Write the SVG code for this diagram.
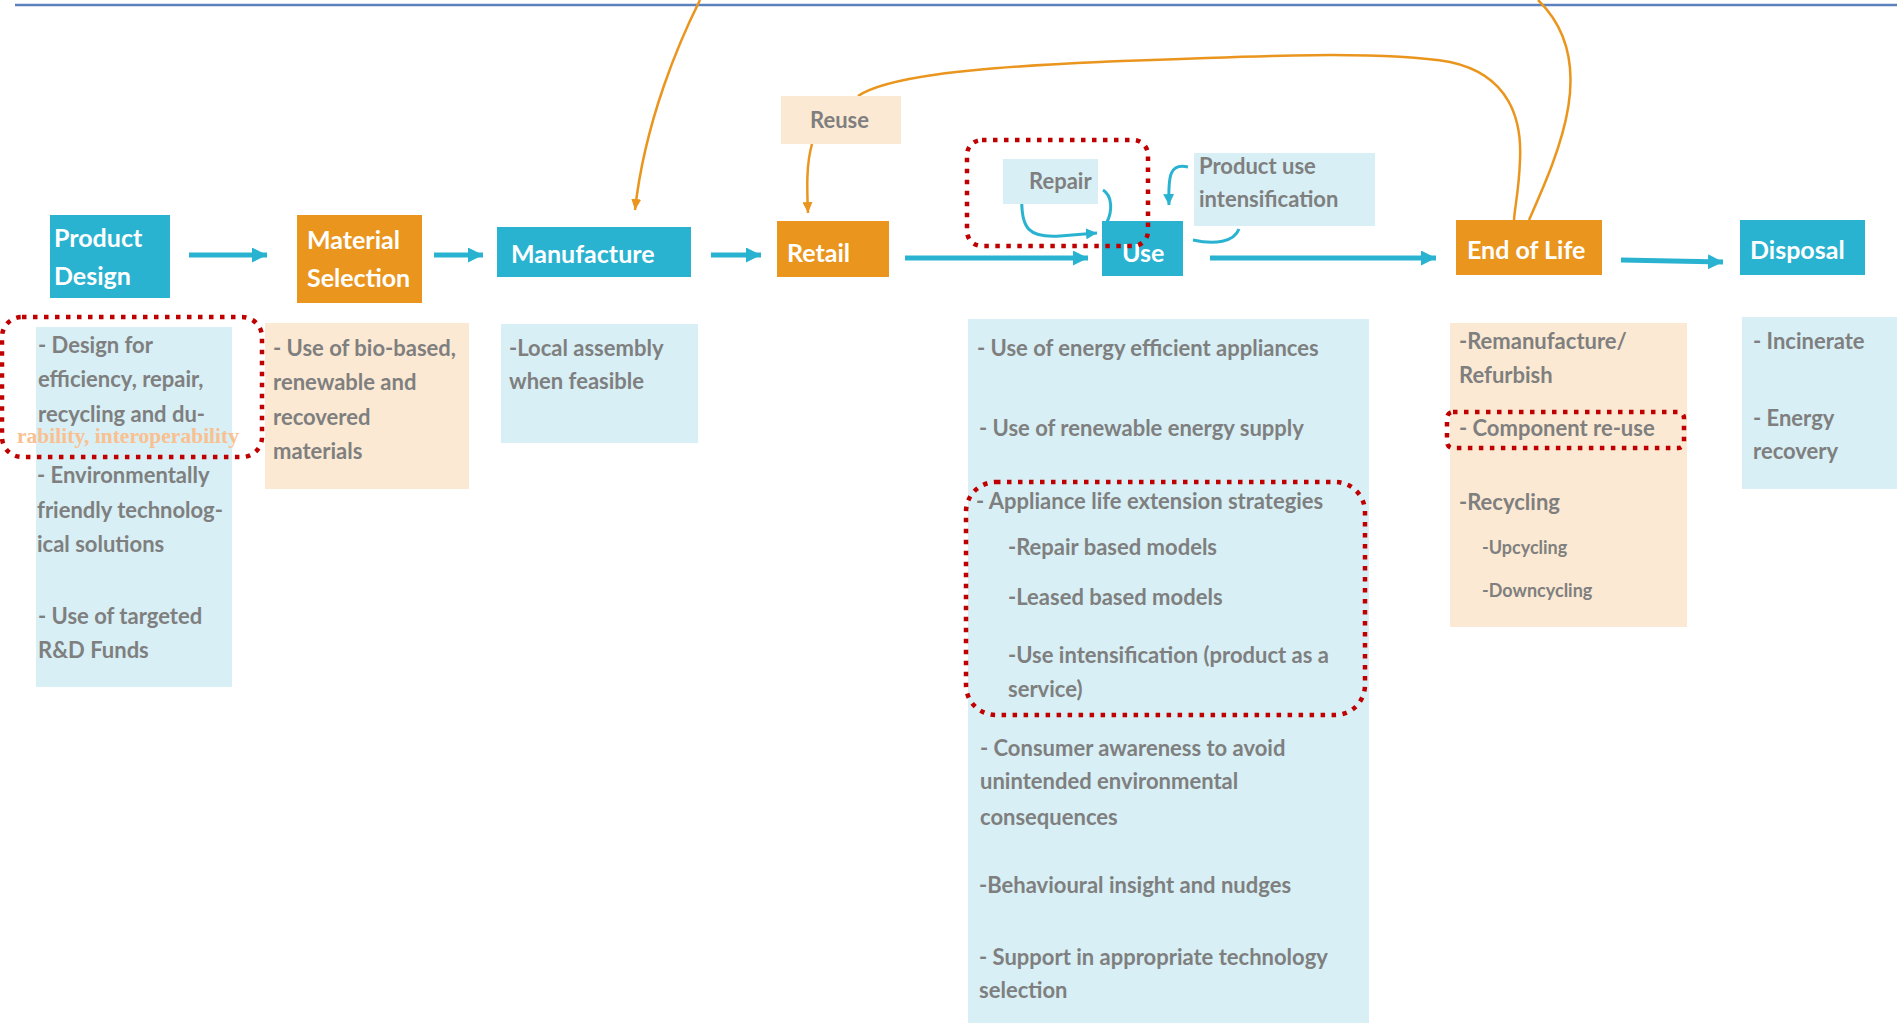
<svg xmlns="http://www.w3.org/2000/svg" width="1897" height="1023" viewBox="0 0 1897 1023">
<defs>
<style>
.blue{fill:#29b3d1}
.orange{fill:#ea961e}
.lblue{fill:#d7eff5}
.beige{fill:#fbe9d3}
.lbl{font-family:Lato,"Open Sans",sans-serif;font-weight:bold;font-size:25px;fill:#fff}
.txt{font-family:Lato,"Open Sans",sans-serif;font-weight:bold;font-size:22px;fill:#7f7f7f}
.sm{font-size:18px}
.ser{font-family:"Liberation Serif",serif;font-weight:bold;font-size:21px;fill:#fac090}
.conn{fill:none;stroke:#29b3d1;stroke-width:5}
.thin{fill:none;stroke:#29b3d1;stroke-width:3}
.oc{fill:none;stroke:#ea961e;stroke-width:2.5}
.red{fill:none;stroke:#c00000;stroke-width:4.5;stroke-dasharray:4.5 6.5}
</style>
<marker id="ab" markerUnits="userSpaceOnUse" markerWidth="16" markerHeight="15" refX="15" refY="7.5" orient="auto"><path d="M0,0 L15,7.5 L0,15 z" fill="#29b3d1"/></marker>
<marker id="as" markerUnits="userSpaceOnUse" markerWidth="12" markerHeight="11" refX="11" refY="5.5" orient="auto"><path d="M0,0 L11,5.5 L0,11 z" fill="#29b3d1"/></marker>
<marker id="ao" markerUnits="userSpaceOnUse" markerWidth="12" markerHeight="10" refX="11" refY="5" orient="auto"><path d="M0,0 L11,5 L0,10 z" fill="#ea961e"/></marker>
</defs>
<rect width="1897" height="1023" fill="#fff"/>
<path d="M15,5 L1897,5" stroke="#5b82be" stroke-width="2.5"/>

<g id="connectors">
<path class="conn" d="M189,255 L267,255" marker-end="url(#ab)"/>
<path class="conn" d="M434,255 L483,255" marker-end="url(#ab)"/>
<path class="conn" d="M711,255 L761,255" marker-end="url(#ab)"/>
<path class="conn" d="M905,258 L1088,258" marker-end="url(#ab)"/>
<path class="conn" d="M1210,258 L1436,258" marker-end="url(#ab)"/>
<path class="conn" d="M1621,260 L1723,262" marker-end="url(#ab)"/>
<path class="oc" d="M700,0 C680,40 645,120 635,210" marker-end="url(#ao)"/>
<path class="oc" d="M812,144 C806,165 807,190 808,213" marker-end="url(#ao)"/>
<path class="oc" d="M858,96 C885,78 960,68 1100,62 C1250,56 1380,50 1450,62 C1510,75 1522,120 1520,160 C1519,190 1515,205 1514,220"/>
<path class="oc" d="M1529,220 C1560,150 1600,60 1538,0"/>
<path class="thin" d="M1022,195 C1020,230 1030,238 1060,236 L1097,233" marker-end="url(#as)"/>
<path class="thin" d="M1103,190 C1113,196 1112,212 1107,222"/>
<path class="thin" d="M1188,167 C1170,163 1168,175 1169,205" marker-end="url(#as)"/>
<path class="thin" d="M1239,229 C1234,242 1215,245 1193,240"/>
</g>

<g id="product-design">
<rect class="blue" x="50" y="215" width="120" height="83"/>
<text class="lbl" x="54" y="247">Product</text>
<text class="lbl" x="54" y="285">Design</text>
</g>
<g id="material-selection">
<rect class="orange" x="297" y="215" width="125" height="88"/>
<text class="lbl" x="307" y="249">Material</text>
<text class="lbl" x="307" y="287">Selection</text>
</g>
<g id="manufacture">
<rect class="blue" x="497" y="227" width="194" height="50"/>
<text class="lbl" x="511" y="263">Manufacture</text>
</g>
<g id="retail">
<rect class="orange" x="777" y="221" width="112" height="56"/>
<text class="lbl" x="787" y="262">Retail</text>
</g>
<g id="reuse">
<rect class="beige" x="781" y="96" width="120" height="48"/>
<text class="txt" x="810" y="128">Reuse</text>
</g>
<g id="use">
<rect class="blue" x="1102" y="221" width="81" height="55"/>
<text class="lbl" x="1122" y="262">Use</text>
</g>
<g id="repair">
<rect class="lblue" x="1003" y="159" width="95" height="45"/>
<text class="txt" x="1029" y="189">Repair</text>
</g>
<g id="product-use-intensification">
<rect class="lblue" x="1194" y="153" width="181" height="73"/>
<text class="txt" x="1199" y="174">Product use</text>
<text class="txt" x="1199" y="207">intensification</text>
</g>
<g id="end-of-life">
<rect class="orange" x="1456" y="220" width="146" height="55"/>
<text class="lbl" x="1467" y="259">End of Life</text>
</g>
<g id="disposal">
<rect class="blue" x="1740" y="220" width="125" height="55"/>
<text class="lbl" x="1750" y="259">Disposal</text>
</g>

<g id="design-notes">
<rect class="lblue" x="36" y="327" width="196" height="360"/>
<text class="txt" x="38" y="353">- Design for</text>
<text class="txt" x="38" y="387">efficiency, repair,</text>
<text class="txt" x="38" y="422">recycling and du-</text>
<text class="ser" x="17" y="443" textLength="222" lengthAdjust="spacingAndGlyphs">rability, interoperability</text>
<text class="txt" x="37" y="483">- Environmentally</text>
<text class="txt" x="37" y="518">friendly technolog-</text>
<text class="txt" x="37" y="552">ical solutions</text>
<text class="txt" x="38" y="624">- Use of targeted</text>
<text class="txt" x="38" y="658">R&amp;D Funds</text>
<rect class="red" x="2" y="317" width="260" height="140" rx="20"/>
</g>
<g id="material-notes">
<rect class="beige" x="265" y="323" width="204" height="166"/>
<text class="txt" x="273" y="356">- Use of bio-based,</text>
<text class="txt" x="273" y="390">renewable and</text>
<text class="txt" x="273" y="425">recovered</text>
<text class="txt" x="273" y="459">materials</text>
</g>
<g id="manufacture-notes">
<rect class="lblue" x="501" y="324" width="197" height="119"/>
<text class="txt" x="509" y="356">-Local assembly</text>
<text class="txt" x="509" y="389">when feasible</text>
</g>
<g id="use-notes">
<rect class="lblue" x="968" y="319" width="401" height="704"/>
<text class="txt" x="977" y="356">- Use of energy efficient appliances</text>
<text class="txt" x="979" y="436">- Use of renewable energy supply</text>
<text class="txt" x="976" y="509">- Appliance life extension strategies</text>
<text class="txt" x="1008" y="555">-Repair based models</text>
<text class="txt" x="1008" y="605">-Leased based models</text>
<text class="txt" x="1008" y="663">-Use intensification (product as a</text>
<text class="txt" x="1008" y="697">service)</text>
<rect class="red" x="966" y="482" width="399" height="233" rx="30"/>
<text class="txt" x="980" y="756">- Consumer awareness to avoid</text>
<text class="txt" x="980" y="789">unintended environmental</text>
<text class="txt" x="980" y="825">consequences</text>
<text class="txt" x="979" y="893">-Behavioural insight and nudges</text>
<text class="txt" x="979" y="965">- Support in appropriate technology</text>
<text class="txt" x="979" y="998">selection</text>
</g>
<g id="end-of-life-notes">
<rect class="beige" x="1450" y="323" width="237" height="304"/>
<text class="txt" x="1459" y="349">-Remanufacture/</text>
<text class="txt" x="1459" y="383">Refurbish</text>
<text class="txt" x="1459" y="436">- Component re-use</text>
<rect class="red" x="1447" y="412" width="237" height="36" rx="6"/>
<text class="txt" x="1459" y="510">-Recycling</text>
<text class="txt sm" x="1482" y="554">-Upcycling</text>
<text class="txt sm" x="1482" y="597">-Downcycling</text>
</g>
<g id="disposal-notes">
<rect class="lblue" x="1742" y="317" width="155" height="172"/>
<text class="txt" x="1753" y="349">- Incinerate</text>
<text class="txt" x="1753" y="426">- Energy</text>
<text class="txt" x="1753" y="459">recovery</text>
</g>
<g id="repair-highlight">
<rect class="red" x="967" y="140" width="181" height="106" rx="15"/>
</g>
</svg>
